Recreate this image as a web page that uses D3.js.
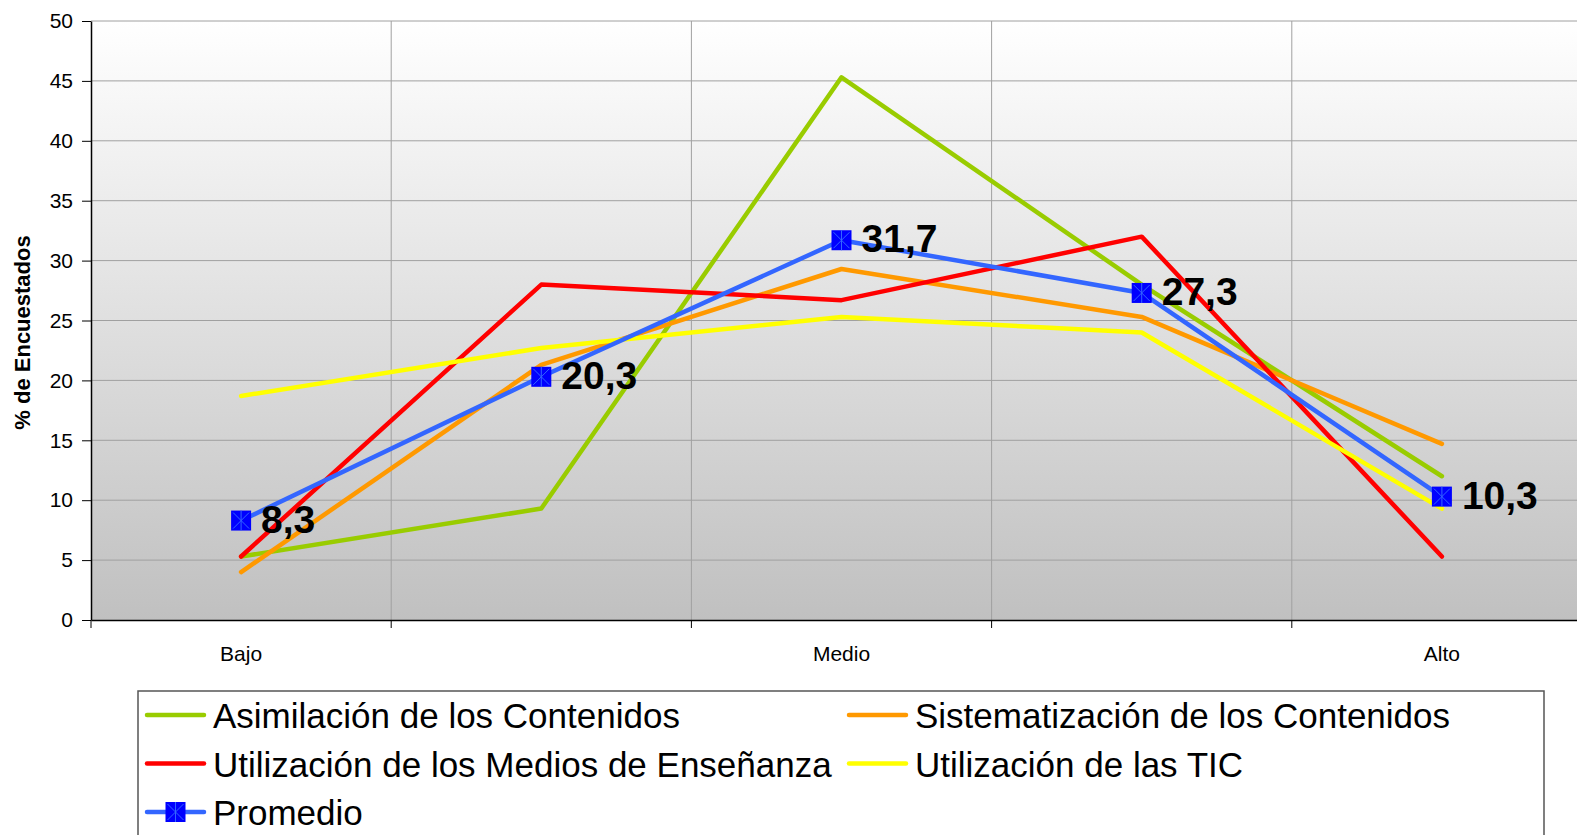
<!DOCTYPE html>
<html>
<head>
<meta charset="utf-8">
<script src="https://cdn.jsdelivr.net/npm/d3@7"></script>
<style>
  body { margin: 0; background: #fff; }
  svg { display: block; font-family: "Liberation Sans", Arial, sans-serif; }
</style>
</head>
<body>
<div id="chart"></div>
<script>
var categories = ["Bajo", "", "Medio", "", "Alto"];
var asimilacion = [5.3, 9.3, 45.3, 28.0, 12.0];
var sistematizacion = [4.0, 21.3, 29.3, 25.3, 14.7];
var medios = [5.3, 28.0, 26.7, 32.0, 5.3];
var tic = [18.7, 22.7, 25.3, 24.0, 9.3];
var promedio = [8.3, 20.3, 31.7, 27.3, 10.3];
var seriesNames = [
  "Asimilación de los Contenidos",
  "Sistematización de los Contenidos",
  "Utilización de los Medios de Enseñanza",
  "Utilización de las TIC",
  "Promedio"
];
var yTicks = [0, 5, 10, 15, 20, 25, 30, 35, 40, 45, 50];
var yTitle = "% de Encuestados";

var seriesColors = ["#99cc00", "#ff9900", "#ff0000", "#ffff00", "#3366ff"];

function Plot() {
  var width = 1577, height = 835;
  var left = 91, top = 21, bottom = 620, right = 1592;

  var svg = d3.select("#chart").append("svg")
    .attr("width", width)
    .attr("height", height);

  var defs = svg.append("defs");
  var grad = defs.append("linearGradient")
    .attr("id", "bg").attr("x1", 0).attr("y1", 0).attr("x2", 0).attr("y2", 1);
  grad.append("stop").attr("offset", "0%").attr("stop-color", "#ffffff");
  grad.append("stop").attr("offset", "100%").attr("stop-color", "#c0c0c0");

  var x = d3.scaleBand()
    .domain(d3.range(categories.length))
    .range([left, right])
    .padding(0);
  var y = d3.scaleLinear().domain([0, 50]).range([bottom, top]);
  var cx = function (i) { return x(i) + x.bandwidth() / 2; };

  // plot area
  svg.append("rect")
    .attr("x", left).attr("y", top)
    .attr("width", right - left).attr("height", bottom - top)
    .style("fill", "url(#bg)");

  // gridlines
  svg.append("g").selectAll("line")
    .data(yTicks.slice(1)).enter().append("line")
    .attr("x1", left).attr("x2", right)
    .attr("y1", function (d) { return y(d); })
    .attr("y2", function (d) { return y(d); })
    .style("stroke", "#a0a0a0").style("stroke-width", 1);

  svg.append("g").selectAll("line")
    .data(d3.range(1, categories.length)).enter().append("line")
    .attr("x1", function (d) { return x(d); })
    .attr("x2", function (d) { return x(d); })
    .attr("y1", top).attr("y2", bottom)
    .style("stroke", "#a0a0a0").style("stroke-width", 1);

  // y axis
  var yAxis = svg.append("g")
    .attr("transform", "translate(" + left + ",0)")
    .call(d3.axisLeft(y).tickValues(yTicks).tickSize(9).tickSizeOuter(0).tickPadding(9));
  yAxis.select(".domain").style("stroke", "#000").style("stroke-width", 1.5);
  yAxis.selectAll(".tick line").style("stroke", "#000");
  yAxis.selectAll("text").style("font-size", "21px").style("fill", "#000");

  // x axis
  var xAxis = svg.append("g")
    .attr("transform", "translate(0," + bottom + ")")
    .call(d3.axisBottom(x).tickSize(0).tickPadding(26)
      .tickFormat(function (i) { return categories[i]; }));
  xAxis.select(".domain").style("stroke", "#000").style("stroke-width", 1.5);
  xAxis.selectAll("text").style("font-size", "21px").style("fill", "#000");

  svg.append("g").selectAll("line")
    .data(d3.range(categories.length)).enter().append("line")
    .attr("x1", function (d) { return x(d); })
    .attr("x2", function (d) { return x(d); })
    .attr("y1", bottom).attr("y2", bottom + 8)
    .style("stroke", "#000").style("stroke-width", 1);

  // y title
  svg.append("text")
    .attr("transform", "translate(30," + ((top + bottom) / 2 + 12) + ") rotate(-90)")
    .style("text-anchor", "middle")
    .style("font-size", "22px")
    .style("font-weight", "bold")
    .text(yTitle);

  // lines
  var allSeries = [asimilacion, sistematizacion, medios, tic, promedio];
  var line = d3.line()
    .x(function (d, i) { return cx(i); })
    .y(function (d) { return y(d); });

  svg.append("g").selectAll("path")
    .data(allSeries).enter().append("path")
    .attr("d", line)
    .style("fill", "none")
    .style("stroke", function (d, i) { return seriesColors[i]; })
    .style("stroke-width", 4.5)
    .style("stroke-linejoin", "round")
    .style("stroke-linecap", "round");

  // markers for promedio
  var markers = svg.append("g").selectAll("g")
    .data(promedio).enter().append("g")
    .attr("transform", function (d, i) { return "translate(" + cx(i) + "," + y(d) + ")"; });
  drawMarker(markers, 10);

  // value labels
  var fmt = function (v) { return d3.format(".1f")(v).replace(".", ","); };
  svg.append("g").selectAll("text")
    .data(promedio).enter().append("text")
    .attr("x", function (d, i) { return cx(i) + 20; })
    .attr("y", function (d) { return y(d) + 12; })
    .style("font-size", "39px")
    .style("font-weight", "bold")
    .text(fmt);

  // legend
  var legend = svg.append("g");
  legend.append("rect")
    .attr("x", 138).attr("y", 691)
    .attr("width", 1406).attr("height", 200)
    .style("fill", "#fff")
    .style("stroke", "#555").style("stroke-width", 1.5);

  var item = legend.selectAll(".legend")
    .data(seriesNames).enter()
    .append("g").attr("class", "legend")
    .attr("transform", function (d, i) {
      return "translate(" + (147 + (i % 2) * 702) + "," + (715 + Math.floor(i / 2) * 48.5) + ")";
    });

  item.append("line")
    .attr("x1", 0).attr("x2", 57)
    .attr("y1", 0).attr("y2", 0)
    .style("stroke", function (d, i) { return seriesColors[i]; })
    .style("stroke-width", 4.5)
    .style("stroke-linecap", "round");

  item.append("text")
    .attr("x", 66).attr("y", 13)
    .style("font-size", "35px")
    .text(function (d) { return d; });

  var legMarker = item.filter(function (d, i) { return i === 4; })
    .append("g").attr("transform", "translate(28.5,0)");
  drawMarker(legMarker, 10);
}

function drawMarker(sel, r) {
  sel.append("rect")
    .attr("x", -r).attr("y", -r)
    .attr("width", 2 * r).attr("height", 2 * r)
    .style("fill", "#0000ff");
  var k = r * 0.8;
  var segs = [[0, -r, 0, r], [-k, -k, k, k], [-k, k, k, -k]];
  sel.selectAll(".star")
    .data(segs).enter().append("line")
    .attr("class", "star")
    .attr("x1", function (s) { return s[0]; })
    .attr("y1", function (s) { return s[1]; })
    .attr("x2", function (s) { return s[2]; })
    .attr("y2", function (s) { return s[3]; })
    .style("stroke", "#3366ff")
    .style("stroke-width", 1);
}

Plot();
</script>
</body>
</html>
